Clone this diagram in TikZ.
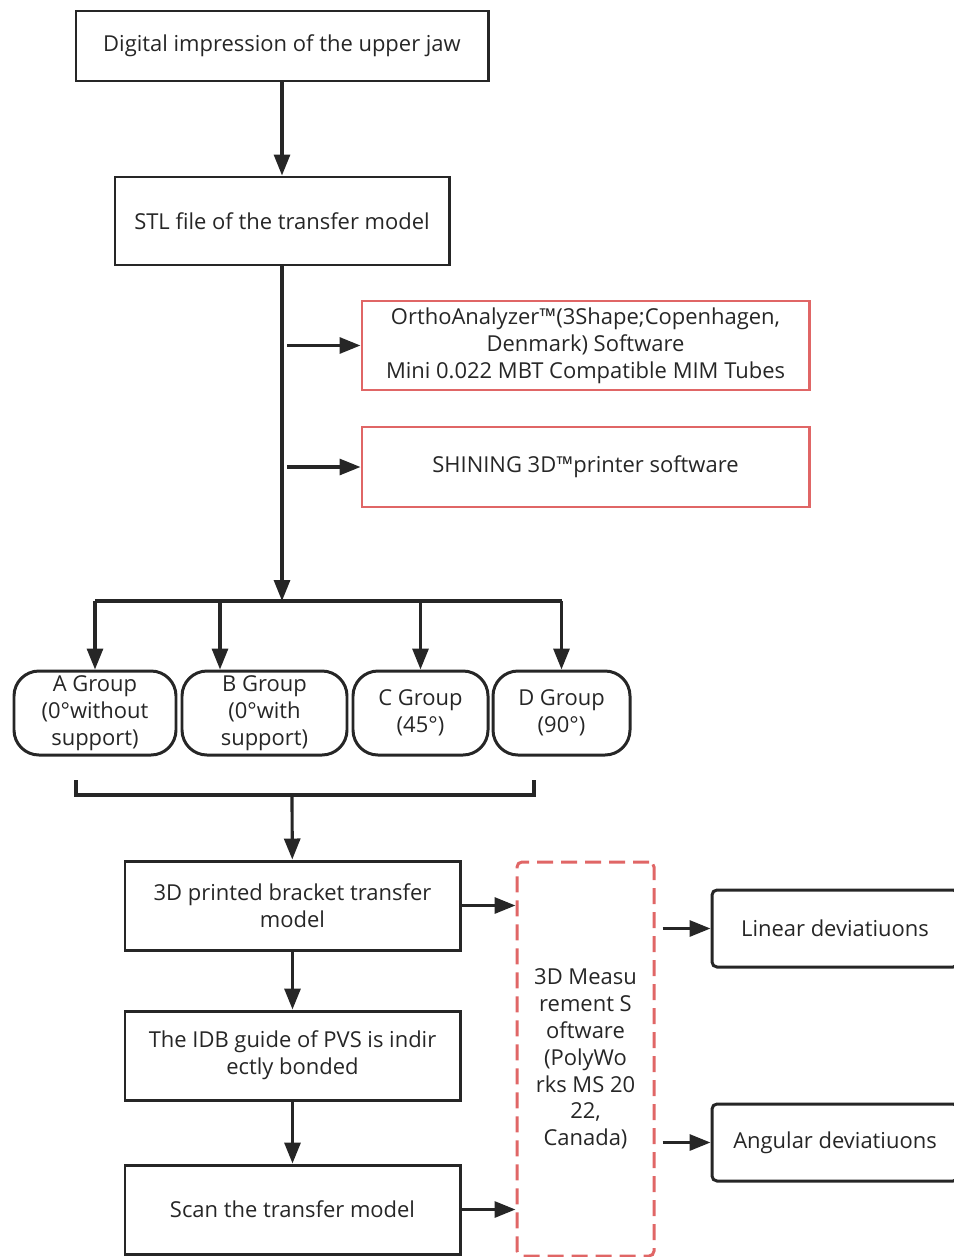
\documentclass[tikz,border=0pt]{standalone}
\usepackage{fontspec}
\setmainfont{Open Sans}
\usetikzlibrary{arrows.meta,positioning}
\definecolor{ink}{HTML}{262626}
\definecolor{boxred}{HTML}{E06666}

\begin{document}
\begin{tikzpicture}[x=0.02cm,y=-0.02cm,
    every node/.style={font=\fontsize{12.5}{15.3}\selectfont, align=center, inner sep=0pt, text=ink},
    box/.style 2 args={draw=ink, line width=1.7pt, minimum width=#1*0.02cm, minimum height=#2*0.02cm},
    redbox/.style 2 args={draw=boxred, line width=1.7pt, minimum width=#1*0.02cm, minimum height=#2*0.02cm},
    grp/.style 2 args={box={#1}{#2}, rounded corners=0.5cm},
    link/.style={draw=ink, line width=1.8pt},
    arr/.style={link, -{Triangle[length=0.42cm,width=0.32cm]}}]
            \useasboundingbox (0,0) rectangle (953,1257);
            \node[box={412}{70}] (digital) at (282,46) {Digital impression of the upper jaw};
            \node[box={334}{88}] (stl) at (282,221) {STL file of the transfer model};
            \node[redbox={447}{89}] (ortho) at (585.5,345.5) {OrthoAnalyzer™(3Shape;Copenhagen,\\ Denmark) Software\\ Mini 0.022 MBT Compatible MIM Tubes};
            \node[redbox={447}{80}] (shining) at (585.5,467) {SHINING 3D™printer software};
            \node[grp={162}{84}] (ga) at (95,713) {A Group\\ (0°without\\ support)};
            \node[grp={165}{84}] (gb) at (264.5,713) {B Group\\ (0°with\\ support)};
            \node[grp={135}{84}] (gc) at (420.5,713) {C Group\\ (45°)};
            \node[grp={137}{84}] (gd) at (561.5,713) {D Group\\ (90°)};
            \node[box={335}{89}] (printed) at (292.5,905.5) {3D printed bracket transfer\\ model};
            \node[box={335}{89}] (idb) at (292.5,1055.5) {The IDB guide of PVS is indir\\ ectly bonded};
            \node[box={335}{89}] (scan) at (292.5,1209.5) {Scan the transfer model};
            \node[redbox={137}{394}, dash pattern=on 0.32cm off 0.16cm, rounded corners=0.1cm] (measure) at (585.5,1059) {3D Measu\\ rement S\\ oftware\\ (PolyWo\\ rks MS 20\\ 22,\\ Canada)};
            \node[box={246}{77}, rounded corners=0.1cm] (linear) at (835,928.5) {Linear deviatiuons};
            \node[box={246}{77}, rounded corners=0.1cm] (angular) at (835,1142.5) {Angular deviatiuons};
            \coordinate (fork) at (283,601);
            \coordinate (bdrop) at (220,601);
            \coordinate (bl) at (76,780);
            \coordinate (br) at (534,780);
            \coordinate (join) at (292,795);
            \draw[arr] (digital) -- (stl);
            \draw[arr] (stl) -- (stl.south |- fork);
            \draw[arr, shorten <=0.1cm] (stl.south |- ortho.west) -- (ortho);
            \draw[arr, shorten <=0.1cm] (stl.south |- shining.west) -- (shining);
            \draw[link] (ga.north |- fork) -- (gd.north |- fork);
            \draw[arr] (ga.north |- fork) -- (ga);
            \draw[arr] (bdrop) -- (bdrop |- gb.north);
            \draw[arr] (gc.north |- fork) -- (gc);
            \draw[arr] (gd.north |- fork) -- (gd);
            % bracket joining the four groups
            \draw[link] (bl) |- (join) -| (br);
            \draw[arr] (join) -- (printed);
            \draw[arr] (printed) -- (idb);
            \draw[arr] (idb) -- (scan);
            \draw[arr] (printed.east) -- (printed.east -| measure.west);
            \draw[arr] (scan.east) -- (scan.east -| measure.west);
            \draw[arr, shorten <=0.14cm] (measure.east |- linear.west) -- (linear);
            \draw[arr, shorten <=0.14cm] (measure.east |- angular.west) -- (angular);
\end{tikzpicture}
\end{document}
